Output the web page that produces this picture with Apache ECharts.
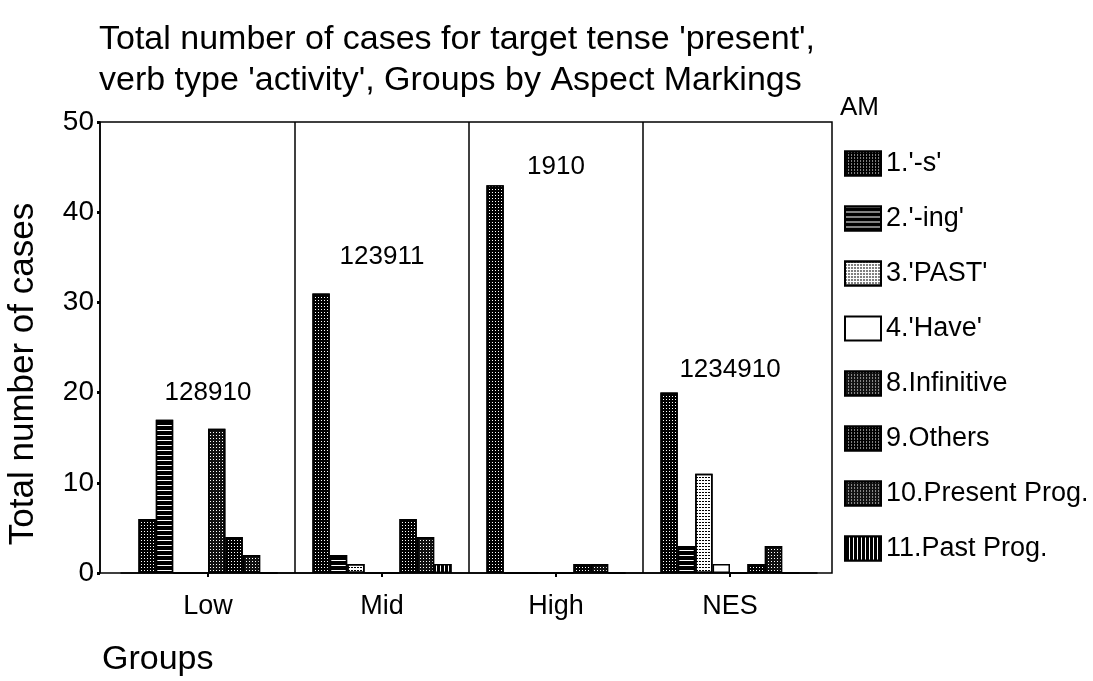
<!DOCTYPE html>
<html lang="en">
<head>
  <meta charset="UTF-8">
  <title>Total number of cases for target tense 'present'</title>
  <script src="https://cdn.jsdelivr.net/npm/echarts@6.0.0/dist/echarts.min.js"></script>
  <style>
    html, body { margin: 0; padding: 0; background: #fff; }
    #chart { width: 1093px; height: 681px; }
  </style>
</head>
<body>
  <div id="chart"></div>
  <script>
    // groups on the x axis
    const groups = ['Low', 'Mid', 'High', 'NES'];
    // aspect markings (legend order)
    const amNames = ["1.'-s'", "2.'-ing'", "3.'PAST'", "4.'Have'", '8.Infinitive', '9.Others', '10.Present Prog.', '11.Past Prog.'];
    // counts per group
    const sValues = [6, 31, 43, 20];
    const ingValues = [17, 2, 0, 3];
    const pastValues = [0, 1, 0, 11];
    const haveValues = [0, 0, 0, 1];
    const infinitiveValues = [16, 0, 0, 0];
    const othersValues = [4, 6, 1, 1];
    const presProgValues = [2, 4, 1, 3];
    const pastProgValues = [0, 1, 0, 0];
    // code strings printed above each group, and the height they sit at
    const groupCodes = ['128910', '123911', '1910', '1234910'];
    const codeHeights = [20, 35, 45, 22.5];
    const yTicks = [0, 10, 20, 30, 40, 50];

    const amValues = [sValues, ingValues, pastValues, haveValues, infinitiveValues, othersValues, presProgValues, pastProgValues];

    // frame of the plot (SPSS style box) and the inner category area
    const FRAME = { left: 100, top: 122, right: 832, bottom: 573 };
    const GRID = { left: 121, top: 122, width: 696, height: 451 };
    const FONT = 'Arial, "Liberation Sans", sans-serif';

    const dots = (c, gap) => ({ symbol: 'rect', color: c, dashArrayX: [1, gap], dashArrayY: [1, gap], symbolSize: 1 });
    const looks = [
      { color: '#000', decal: dots('#fff', 1.5) },
      { color: '#000', decal: { symbol: 'rect', color: '#fff', dashArrayX: [1, 0], dashArrayY: [1, 4], symbolSize: 1 } },
      { color: '#fff', decal: { symbol: 'rect', color: '#000', dashArrayX: [2, 1], dashArrayY: [1, 1.5], symbolSize: 1 } },
      { color: '#fff' },
      { color: '#111', decal: dots('#fff', 1.5) },
      { color: '#000', decal: dots('#fff', 2) },
      { color: '#111', decal: dots('#fff', 1.5) },
      { color: '#000', decal: { symbol: 'rect', color: '#fff', dashArrayX: [1, 3], dashArrayY: [1, 0], symbolSize: 1 } }
    ];

    const barSeries = amNames.map((name, i) => ({
      name: name,
      type: 'bar',
      data: amValues[i],
      barGap: '0%',
      barCategoryGap: '20%',
      itemStyle: Object.assign({ borderColor: '#000', borderWidth: 1.5 }, looks[i]),
      emphasis: { disabled: true }
    }));

    const chart = echarts.init(document.getElementById('chart'));
    chart.setOption({
      animation: false,
      backgroundColor: '#fff',
      textStyle: { fontFamily: FONT, color: '#000' },
      title: [
        {
          text: "Total number of cases for target tense 'present',\nverb type 'activity', Groups by Aspect Markings",
          left: 94, top: 14,
          textStyle: { fontSize: 34, fontWeight: 'normal', lineHeight: 41, color: '#000', fontFamily: FONT }
        },
        {
          text: 'Groups', left: 97, top: 638,
          textStyle: { fontSize: 34, fontWeight: 'normal', color: '#000', fontFamily: FONT }
        },
        {
          text: 'AM', left: 835, top: 90,
          textStyle: { fontSize: 26, fontWeight: 'normal', color: '#000', fontFamily: FONT }
        }
      ],
      legend: {
        data: amNames,
        orient: 'vertical',
        left: 839, top: 145,
        icon: 'rect',
        itemWidth: 36, itemHeight: 24, itemGap: 28,
        selectedMode: false,
        textStyle: { fontSize: 27, color: '#000', fontFamily: FONT }
      },
      grid: GRID,
      xAxis: {
        type: 'category',
        data: groups,
        axisLine: { show: true, lineStyle: { color: '#000', width: 1.5 } },
        axisTick: { show: true, alignWithLabel: true, length: 4, lineStyle: { color: '#000', width: 2 } },
        axisLabel: { fontSize: 27, color: '#000', margin: 20, fontFamily: FONT },
        splitLine: { show: true, showMinLine: false, showMaxLine: false, lineStyle: { color: '#000', width: 1.5 } }
      },
      yAxis: {
        type: 'value',
        min: yTicks[0], max: yTicks[yTicks.length - 1], interval: 10,
        offset: GRID.left - FRAME.left,
        axisLine: { show: true, lineStyle: { color: '#000', width: 1.5 } },
        axisTick: { show: true, length: 3, lineStyle: { color: '#000', width: 3 } },
        axisLabel: { fontSize: 28, color: '#000', margin: 6, fontFamily: FONT },
        splitLine: { show: false }
      },
      series: barSeries.concat([{
        name: 'codes',
        type: 'scatter',
        data: codeHeights,
        symbolSize: 1,
        itemStyle: { color: 'rgba(0,0,0,0)' },
        silent: true,
        z: 5,
        label: {
          show: true, position: 'inside',
          formatter: p => groupCodes[p.dataIndex],
          fontSize: 26, color: '#000', opacity: 1, fontFamily: FONT
        }
      }]),
      graphic: [
        {
          type: 'rect', silent: true, z: 20,
          shape: { x: FRAME.left, y: FRAME.top, width: FRAME.right - FRAME.left, height: FRAME.bottom - FRAME.top },
          style: { fill: 'none', stroke: '#000', lineWidth: 1.5 }
        },
        {
          type: 'text', silent: true,
          x: 23, y: 374, rotation: Math.PI / 2,
          style: { text: 'Total number of cases', font: '35px ' + FONT, fill: '#000', align: 'center', verticalAlign: 'middle' }
        }
      ]
    });
  </script>
</body>
</html>
